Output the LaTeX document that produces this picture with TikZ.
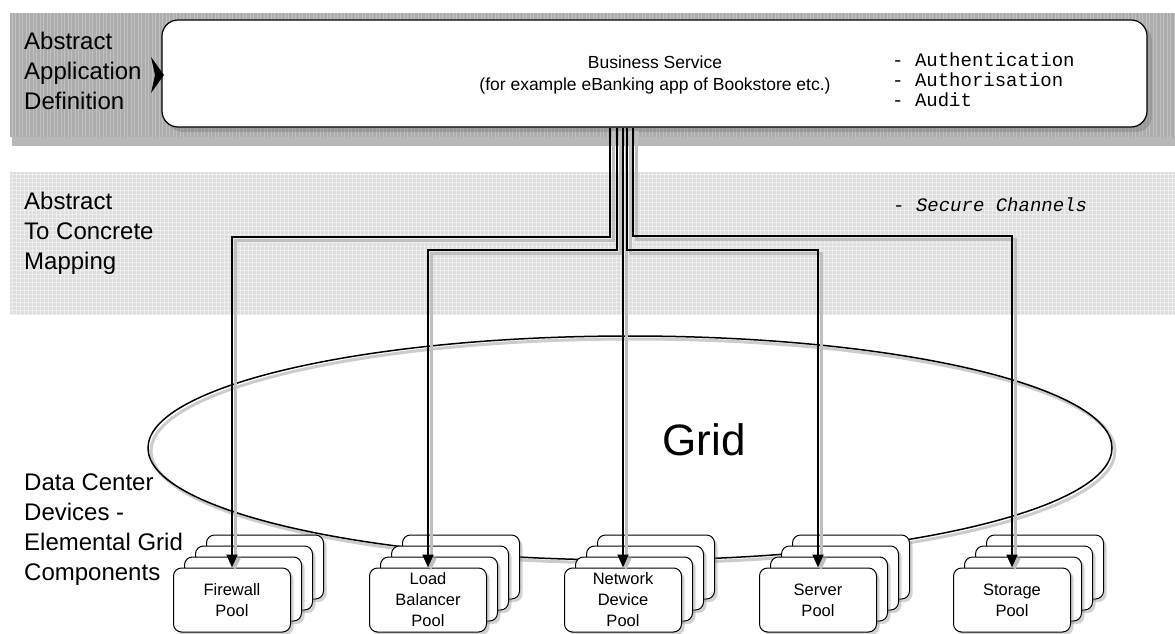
\documentclass[tikz,border=0pt]{standalone}
\usepackage{fontspec}
\setmainfont{Liberation Sans}
\newfontfamily\monofont{Liberation Mono}
\usetikzlibrary{shadows,arrows.meta,calc}
\begin{document}
\begin{tikzpicture}[x=1pt,y=-1pt,
  lbl/.style={anchor=north west, align=left, inner sep=0pt, font=\fontsize{24}{30}\selectfont},
  bsbox/.style={draw=black, line width=1.2pt, fill=white, rounded corners=16pt,
     minimum width=985pt, minimum height=107pt, inner sep=0pt,
     drop shadow={shadow xshift=5pt, shadow yshift=-5pt, opacity=0.45}},
  poolbox/.style={draw=black, line width=1pt, fill=white, rounded corners=8pt,
     minimum width=117pt, minimum height=64pt, inner sep=0pt,
     drop shadow={shadow xshift=3pt, shadow yshift=-3pt, opacity=0.35}},
  pooltxt/.style={align=center, font=\fontsize{16.5}{21}\selectfont},
  mono/.style={align=left, inner sep=0pt, font=\monofont\fontsize{19}{20}\selectfont},
  conn/.style={draw=black, line width=2pt, -{Triangle[length=13pt,width=11pt]},
     preaction={draw=black!25, line width=3pt, -{Triangle[length=13pt,width=11pt]}, transform canvas={shift={(3pt,-3pt)}}}},
]
\useasboundingbox (0,0) rectangle (1175,634);
\fill[white] (0,0) rectangle (1175,634);

% top band (vertical stripes)
\fill[black!55, opacity=0.5] (12,137) rectangle (1175,146);
\fill[black!32] (10,13) rectangle (1175,137);
\foreach \x in {12,15.5,...,1175} \draw[white, opacity=0.25, line width=1pt] (\x,13) -- (\x,137);

% middle band (grid)
\fill[black!13] (10,172) rectangle (1175,315);
\foreach \x in {12,16,...,1175} \draw[white, opacity=0.45, line width=0.6pt] (\x,172) -- (\x,315);
\foreach \y in {174,178,...,315} \draw[white, opacity=0.45, line width=0.6pt] (10,\y) -- (1175,\y);

% labels
\node[lbl] (l1) at (24,32) {Abstract\\Application\\Definition};
\node[lbl] (l2) at (24,192) {Abstract\\To Concrete\\Mapping};
\node[lbl] (l3) at (24,474) {Data Center\\Devices -\\Elemental Grid\\Components};

% business service box
\node[bsbox] (bs) at (654.5,73.5) {};
\fill[black] (151,57) -- (155,75) -- (151,93) -- (164,75) -- cycle;
\node[align=center, inner sep=0pt, font=\fontsize{17.5}{22}\selectfont] (bst) at (655,75)
  {Business Service\\(for example eBanking app of Bookstore etc.)};
\node[mono, anchor=west] (aaa) at (892,80) {- Authentication\\- Authorisation\\- Audit};
\node[mono, anchor=west, font=\monofont\itshape\fontsize{19}{20}\selectfont] (sc) at (893,205) {- Secure Channels};

% grid ellipse
\draw[line width=1.5pt, preaction={draw=black!20, line width=3pt, transform canvas={shift={(3pt,-3pt)}}}]
  (630,448) ellipse [x radius=482, y radius=112];
\node[font=\fontsize{44}{50}\selectfont] (grid) at (704,440) {Grid};

% pools
\foreach \nm/\cx/\txt in {fw/232/{Firewall\\Pool}, lb/428/{Load\\Balancer\\Pool}, nd/623/{Network\\Device\\Pool}, sv/818/{Server\\Pool}, st/1012/{Storage\\Pool}}{
  \node[poolbox] (\nm3) at (\cx+33,600-33) {};
  \node[poolbox] (\nm2) at (\cx+22,600-22) {};
  \node[poolbox] (\nm1) at (\cx+11,600-11) {};
  \node[poolbox] (\nm) at (\cx,600) {};
  \node[pooltxt] (\nm t) at (\nm) {\txt};
}

% connectors
\coordinate (h1) at (0,237);
\coordinate (h2) at (0,250);
\coordinate (h3) at (0,236);
\path[conn] ($(bs.south)+(-44.5,0)$) |- (fw.north |- h1) -- (fw.north);
\path[conn] ($(bs.south)+(-37.5,0)$) |- (lb.north |- h2) -- (lb.north);
\path[conn] ($(bs.south)+(-31.5,0)$) -- (nd.north);
\path[conn] ($(bs.south)+(-27.5,0)$) |- (sv.north |- h2) -- (sv.north);
\path[conn] ($(bs.south)+(-21.5,0)$) |- (st.north |- h3) -- (st.north);
\end{tikzpicture}
\end{document}
